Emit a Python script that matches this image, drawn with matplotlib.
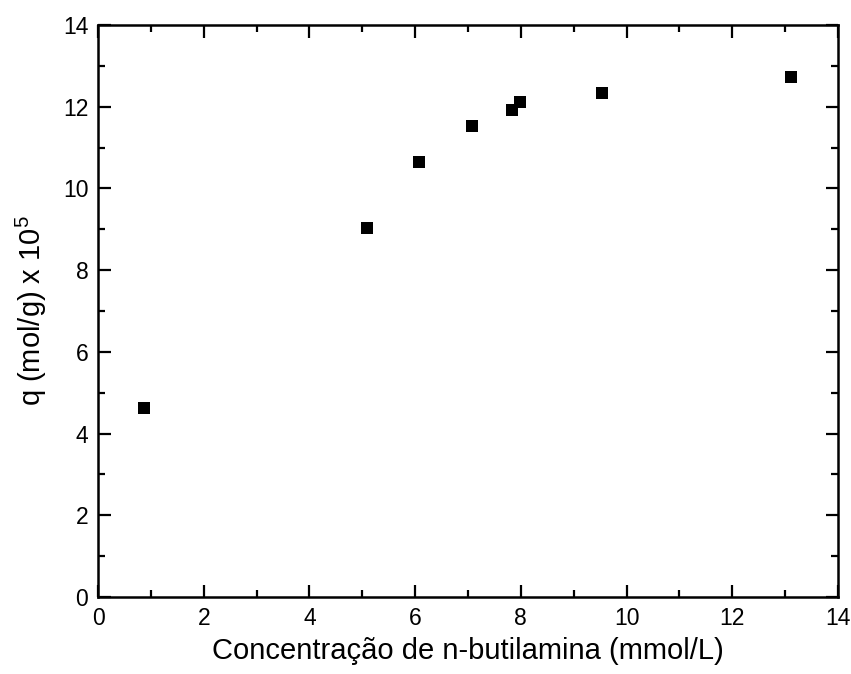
import matplotlib
matplotlib.use('Agg')
import matplotlib.pyplot as plt
from matplotlib.ticker import MultipleLocator

conc = [0.87, 5.08, 6.07, 7.08, 7.84, 7.98, 9.54, 13.11]
q = [4.62, 9.03, 10.64, 11.53, 11.93, 12.12, 12.33, 12.73]
ticks = [0, 2, 4, 6, 8, 10, 12, 14]

plt.rcParams['font.family'] = ['Liberation Sans', 'DejaVu Sans']
plt.rcParams['font.size'] = 16
plt.rcParams['mathtext.fontset'] = 'custom'
plt.rcParams['mathtext.rm'] = 'Liberation Sans'
plt.rcParams['mathtext.it'] = 'Liberation Sans'

fig = plt.figure(figsize=(8.51, 6.74), dpi=100)
ax = fig.add_axes([0.1152, 0.1142, 0.8695, 0.8487])

ax.plot(conc, q, 's', color='black', markersize=8.5, markeredgewidth=0)

ax.set_xlim(0, 14)
ax.set_ylim(0, 14)
ax.set_xticks(ticks, [str(t) for t in ticks], fontsize=16.5)
ax.set_yticks(ticks, [str(t) for t in ticks], fontsize=16.5)
ax.xaxis.set_minor_locator(MultipleLocator(1))
ax.yaxis.set_minor_locator(MultipleLocator(1))
ax.tick_params(which='both', direction='in', top=True, right=True, width=1.6,
               color='black')
ax.tick_params(which='major', length=9, pad=7)
ax.tick_params(which='minor', length=5)
for s in ax.spines.values():
    s.set_linewidth(1.8)

ax.set_xlabel('Concentração de n-butilamina (mmol/L)', fontsize=21, labelpad=5)
ax.set_ylabel('q (mol/g) x 10$^5$', fontsize=21, labelpad=10)

fig.savefig('out.png', dpi=100)
